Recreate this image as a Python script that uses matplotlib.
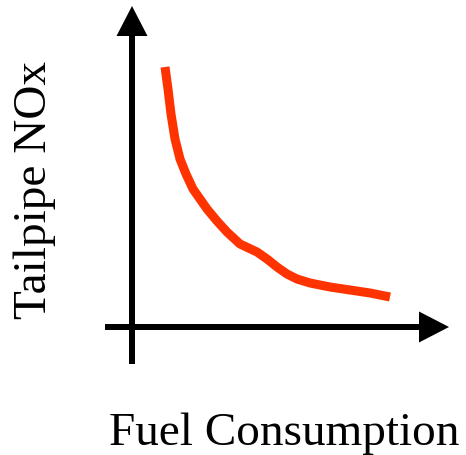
import matplotlib
matplotlib.use("Agg")
import matplotlib.pyplot as plt

# curve (arbitrary units, origin at the axes crossing)
fuel = [33, 36, 39, 43, 48, 54, 61, 68, 75, 85, 95, 108, 125, 135, 145, 155, 165, 178, 198, 218, 238, 258]
nox = [260, 238, 213, 188, 168, 153, 138, 128, 118, 106, 95, 83, 75, 68, 60, 53, 48, 44, 40, 37, 34, 30]

x_label = "Fuel Consumption"
y_label = "Tailpipe NOx"

plt.rcParams['font.family'] = ['Liberation Serif', 'DejaVu Serif']

fig = plt.figure(figsize=(4.66, 4.56), dpi=100)
ax = fig.add_axes([0, 0, 1, 1])
ax.set_xlim(-132, 334)
ax.set_ylim(-128, 328)
ax.axis('off')

# axes drawn as arrows
ax.arrow(0, -37, 0, 358, width=6, head_width=31, head_length=30,
         length_includes_head=True, color='black', lw=0)
ax.arrow(-27, 0, 344, 0, width=6, head_width=31, head_length=30,
         length_includes_head=True, color='black', lw=0)

ax.plot(fuel, nox, color='#ff3300', lw=6.5, solid_capstyle='butt',
        solid_joinstyle='round')

ax.text(152, -117, x_label, fontsize=34, ha='center', va='baseline')
ax.text(-97, 138, y_label, fontsize=34, ha='center', va='center', rotation=90)

fig.savefig("out.png", dpi=100)
